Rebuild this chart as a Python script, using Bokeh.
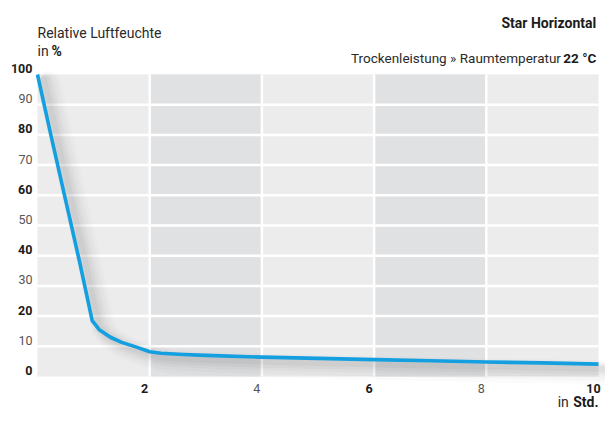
from bokeh.plotting import figure
from bokeh.models import Label, Range1d
from bokeh.embed import file_html
from bokeh.resources import INLINE

# ---- data ----
hours = [0.0, 0.25, 0.5, 0.75, 0.975, 1.1, 1.3, 1.5, 1.75, 2.0, 2.2, 2.6, 3.0, 4.0, 5.0, 6.0, 7.0, 8.0, 9.0, 10.0]
humidity = [100, 79, 58.5, 38, 18.5, 15.5, 13, 11.3, 9.8, 8.2, 7.7, 7.3, 7.0, 6.4, 6.0, 5.6, 5.2, 4.8, 4.5, 4.1]
y_ticks = [0, 10, 20, 30, 40, 50, 60, 70, 80, 90, 100]
y_bold = [0, 20, 40, 60, 80, 100]
x_ticks = [2, 4, 6, 8, 10]
x_bold = [2, 6, 10]
x_grid = [2, 4, 6, 8]
y_grid = [10, 20, 30, 40, 50, 60, 70, 80, 90]
dark_band_left = [2, 6]
dark_band_right = [4, 8]

title = "Star Horizontal"
subtitle = "Trockenleistung » Raumtemperatur"
subtitle_bold = "22 °C"
y_title = "Relative Luftfeuchte"
y_unit_pre = "in"
y_unit = "%"
x_unit_pre = "in"
x_unit = "Std."

FONT = "Roboto"
DARK = "#1b1b1b"
GREY = "#555555"
TXT = "#2a2a2a"

# canvas covers the whole picture; chart area is x 0..10, y 0..100
XS = 56.1   # px per hour
YS = 3.02   # px per percent
W, H = 605, 421
X0, Y0 = 37, 376  # pixel of the origin
p = figure(width=W, height=H, output_backend="svg", toolbar_location=None,
           x_range=Range1d(-X0 / XS, (W - X0) / XS),
           y_range=Range1d(-(H - Y0) / YS, Y0 / YS),
           min_border=0)
p.axis.visible = False
p.grid.visible = False
p.outline_line_color = None
p.background_fill_color = "white"
p.border_fill_color = "white"

# plot area background and bands
p.quad(left=[0], right=[10], bottom=[0], top=[100], fill_color="#ebeceb", line_color=None)
p.quad(left=dark_band_left, right=dark_band_right, bottom=0, top=100,
       fill_color="#e0e1e3", line_color=None)

# grid lines
p.segment(x0=x_grid, x1=x_grid, y0=0, y1=100, line_color="white", line_width=2.5)
p.segment(x0=0, x1=10, y0=y_grid, y1=y_grid, line_color="white", line_width=2.5)

# soft shadow under the curve
for dx, dy, w, a in [(0.2, -2.8, 24, 0.015), (0.18, -2.5, 19, 0.02), (0.16, -2.2, 14, 0.025),
                     (0.14, -1.9, 10, 0.03), (0.12, -1.6, 6, 0.035)]:
    p.line([h + dx for h in hours], [v + dy for v in humidity], line_color="black",
           line_width=w, line_alpha=a, line_join="round", line_cap="round")

p.line(hours, humidity, line_color="#139fe0", line_width=3.6, line_join="round")

def lab(x, y, text, align="left", base="middle", bold=False, color=DARK, size="13px"):
    p.add_layout(Label(x=x, y=y, text=text, text_align=align, text_baseline=base,
                       text_font=FONT, text_font_style="bold" if bold else "normal",
                       text_color=color, text_font_size=size))

for t in y_ticks:
    b = t in y_bold
    lab(-0.09, t + 2, str(t), align="right", bold=b, color=DARK if b else GREY, size="12.5px")
for t in x_ticks:
    b = t in x_bold
    lab(t - 0.09, -4.0, str(t), align="center", bold=b, color=DARK if b else GREY, size="12.5px")

lab(9.96, 117.2, title, align="right", bold=True, size="14px")
lab(9.96, 105.6, subtitle_bold, align="right", bold=True, size="13.5px")
lab(9.33, 105.6, subtitle, align="right", size="13.5px", color=TXT)
lab(0.0, 113.6, y_title, size="14px", color=TXT)
lab(0.0, 107.9, y_unit_pre, size="14px", color=TXT)
lab(0.25, 107.9, y_unit, bold=True, size="14px")
lab(10.0, -8.6, x_unit, align="right", bold=True, size="14px")
lab(9.47, -8.6, x_unit_pre, align="right", size="14px", color=TXT)

open("out.html", "w").write(file_html(p, INLINE))
